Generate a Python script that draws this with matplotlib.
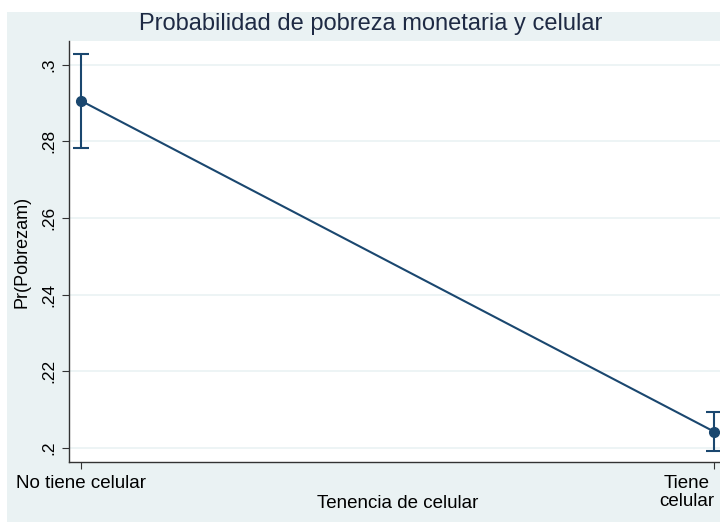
import matplotlib
matplotlib.use("Agg")
import matplotlib.pyplot as plt
from matplotlib.patches import Rectangle

plt.rcParams['font.family'] = ['Liberation Sans', 'DejaVu Sans']

categories = ["No tiene celular", "Tiene\ncelular"]
margins = [0.2906, 0.2043]
ci_low = [0.2784, 0.1992]
ci_high = [0.3029, 0.2094]
yticks = [0.20, 0.22, 0.24, 0.26, 0.28, 0.30]
yticklabels = [".2", ".22", ".24", ".26", ".28", ".3"]

W, H = 720, 522
fig = plt.figure(figsize=(W/100, H/100), dpi=100)
fig.patch.set_facecolor('white')
bg = '#EAF2F3'
fig.patches.append(Rectangle((7/W, 0), 1 - 7/W, 1 - 12/H, transform=fig.transFigure,
                             facecolor=bg, edgecolor='none', zorder=-10))

ax = fig.add_axes([69/W, (H-462)/H, (W-69)/W, (462-41)/H])
ax.set_facecolor('white')
navy = '#1A476F'
x = list(range(len(categories)))
yerr = [[m - l for m, l in zip(margins, ci_low)], [h - m for m, h in zip(margins, ci_high)]]
ax.errorbar(x, margins, yerr=yerr, color=navy, lw=1.5, marker='o', ms=7,
            capsize=6, capthick=1.5, elinewidth=1.5, zorder=3)

ax.set_xlim(-0.019, 1.0095)
ax.set_ylim(0.19636, 0.3062)
ax.set_yticks(yticks)
ax.set_yticklabels(yticklabels, rotation=90, va='center', fontsize=12.5)
ax.set_xticks(x)
ax.set_xticklabels(categories, fontsize=13.5, linespacing=1.15)
lbls = ax.get_xticklabels()
lbls[1].set_ha('right')
lbls[1].set_multialignment('center')
ax.grid(axis='y', color='#EAF2F3', lw=1.2)
ax.set_axisbelow(True)
for s in ['top', 'right']:
    ax.spines[s].set_visible(False)
for s in ['left', 'bottom']:
    ax.spines[s].set_color('#333333')
    ax.spines[s].set_linewidth(1.0)
ax.tick_params(axis='both', direction='out', length=5, color='#333333', labelcolor='black', pad=4)

ax.set_ylabel("Pr(Pobrezam)", fontsize=13, labelpad=8)
fig.text(398 / W, 1 - 503/H, "Tenencia de celular", ha='center', va='center',
         fontsize=13.5, color='black')
fig.text(370.5 / W, 1 - 24/H, "Probabilidad de pobreza monetaria y celular",
         ha='center', va='center', fontsize=17, color='#1E2A44')

fig.savefig("out.png", dpi=100, facecolor=fig.get_facecolor())
